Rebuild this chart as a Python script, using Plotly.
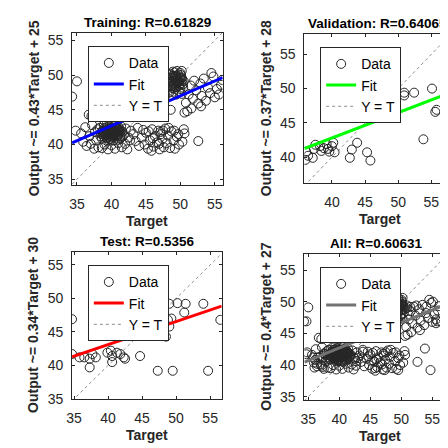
import plotly.graph_objects as go

# ---------------- data ----------------
train_target = [34.3, 35.0, 34.8, 36.7, 37.1, 52.6,
    35.6, 35.9, 36.2, 36.4, 36.8, 37.0, 37.2, 37.5, 37.6, 37.8, 38.0, 38.1,
    38.5, 38.7, 38.9, 39.0, 39.2, 39.3, 39.5, 39.6, 39.7, 39.8, 39.9, 40.0, 40.1, 40.2, 40.3, 40.4,
    40.5, 40.6, 40.7, 40.8, 40.9, 41.0, 41.1, 41.2, 41.3, 41.4, 39.4, 40.0, 40.6, 39.1, 40.2, 41.0,
    38.3, 38.6, 38.9, 39.2, 39.5, 39.8, 40.1, 40.4, 40.7, 41.0, 41.3, 41.6, 38.8, 39.3, 39.9, 40.5,
    41.1, 39.6, 40.3, 40.9,
    38.4, 38.8, 39.1, 39.4, 39.7, 40.0, 40.3, 40.6, 40.9, 41.2, 41.5, 38.6, 39.0, 39.6, 40.2, 40.8,
    41.4, 39.3, 39.9, 40.5, 41.1, 38.9, 39.5, 40.1, 40.7,
    38.6, 39.0, 39.5, 40.0, 40.5, 41.0, 41.5, 42.0, 42.3, 42.7,
    41.8, 42.1, 42.5, 42.8, 43.2, 43.5, 43.8, 44.0,
    44.4, 44.8, 45.0, 45.3, 45.6, 45.9, 46.1, 46.3, 46.6, 46.8, 47.0, 47.2, 47.4, 47.6, 47.8, 48.0,
    48.2, 48.5, 48.7, 49.0, 49.2, 49.5, 49.8, 50.5, 50.6, 50.3,
    44.6, 45.4, 46.0, 46.9, 47.5, 48.3, 49.1, 49.7, 45.8, 47.1,
    45.7, 46.7, 48.6, 51.0, 47.5, 46.2, 45.2,
    48.3, 48.5, 48.6, 48.8, 48.9, 49.0, 49.1, 49.2, 49.3, 49.4, 49.5, 49.6, 49.7, 49.8, 49.9, 50.0,
    50.1, 50.2, 50.4, 50.5, 48.4, 48.7, 49.0, 49.4, 49.8, 50.2,
    48.2, 48.6, 48.9, 49.2, 49.5, 49.8, 50.1, 50.4, 48.5, 49.0, 49.6, 50.2, 48.8, 49.4, 50.0,
    48.4, 48.7, 49.1, 49.3, 49.7, 50.0, 50.3, 48.9, 49.5, 50.1, 48.6, 49.2, 49.9,
    46.5, 47.0, 47.3, 47.8, 50.8, 51.2, 51.5, 51.8, 52.0, 52.3, 52.6, 52.9, 53.1, 53.4, 53.7, 54.0,
    54.3, 54.5, 54.8, 55.0, 55.3, 55.6, 55.9, 56.1, 53.0, 51.6, 50.6]
train_output = [46.9, 49.1, 42.0, 44.3, 44.1, 40.5,
    41.6, 40.4, 42.5, 39.8, 41.2, 40.1, 42.8, 39.4, 41.8, 40.6, 42.2, 39.6,
    41.5, 42.0, 41.1, 42.4, 41.7, 40.9, 42.1, 41.4, 42.7, 40.8, 41.9, 41.2, 42.3, 41.6, 40.6, 42.0,
    41.3, 42.5, 41.8, 41.0, 42.2, 41.5, 40.7, 42.0, 41.2, 42.6, 41.3, 41.9, 41.6, 42.0, 42.1, 41.9,
    42.4, 40.9, 42.8, 41.3, 40.6, 42.5, 41.0, 41.7, 42.9, 42.6, 40.9, 41.8, 41.6, 42.9, 40.7, 42.8,
    42.3, 41.1, 41.4, 41.2,
    41.2, 41.9, 42.2, 41.0, 41.6, 42.4, 41.3, 42.0, 41.5, 41.7, 41.1, 41.8, 41.4, 42.3, 41.8, 41.3,
    42.0, 42.5, 41.5, 41.9, 42.1, 41.6, 41.9, 41.4, 42.2,
    39.5, 40.0, 39.3, 39.9, 39.4, 40.2, 39.6, 40.1, 39.3, 40.6,
    41.4, 42.3, 41.0, 42.0, 41.5, 40.5, 42.4, 39.8,
    41.0, 40.0, 41.7, 39.4, 40.6, 42.2, 39.7, 41.2, 40.3, 42.0, 39.3, 41.5, 40.8, 39.6, 42.3, 40.2,
    41.3, 39.5, 41.9, 40.6, 39.4, 41.1, 40.0, 42.2, 41.6, 40.4,
    42.1, 41.9, 40.9, 40.1, 42.0, 42.4, 42.0, 41.5, 39.1, 41.8,
    45.0, 45.0, 45.0, 44.8, 45.9, 46.2, 46.8,
    49.4, 48.4, 50.2, 49.0, 48.1, 49.8, 48.7, 50.4, 49.2, 48.3, 49.7, 48.9, 50.1, 48.5, 49.4, 50.3,
    48.8, 49.6, 48.2, 49.1, 47.5, 47.1, 47.6, 47.2, 47.7, 47.3,
    48.9, 49.6, 50.5, 48.0, 50.6, 49.1, 50.0, 48.7, 50.0, 48.5, 49.3, 50.6, 48.4, 49.9, 48.0,
    49.2, 48.6, 49.5, 48.8, 49.0, 49.7, 49.3, 49.9, 48.9, 49.5, 49.0, 49.8, 48.7,
    47.5, 48.3, 46.5, 47.0, 46.0, 47.2, 48.5, 46.6, 49.2, 47.8, 45.9, 48.8, 47.0, 49.5, 46.3, 48.2,
    47.4, 50.3, 49.8, 46.8, 48.0, 47.2, 48.6, 49.3, 45.5, 45.2, 44.6]

val_target = [36.0, 36.1, 36.4, 37.1, 37.5, 37.3, 38.2, 38.4, 38.8, 39.2, 39.4, 39.6, 40.2, 40.4, 40.0,
    42.7, 43.0, 43.8, 45.3, 45.8, 41.2, 43.2, 43.9, 44.3, 44.7, 45.2, 45.6, 46.9, 47.9, 48.4,
    48.9, 49.6, 50.9, 50.9, 52.4, 55.1, 53.8, 57.1, 55.6, 55.8, 58.4]
val_output = [39.6, 40.8, 40.2, 39.9, 41.8, 41.2, 41.6, 40.9, 41.3, 41.9, 41.2, 40.8, 42.1, 40.7, 41.6,
    39.9, 41.1, 42.1, 40.7, 39.5, 46.6, 46.8, 46.4, 46.2, 46.6, 46.8, 46.3, 46.8, 46.1, 46.3,
    46.4, 46.8, 49.0, 49.4, 49.4, 50.0, 42.6, 42.0, 46.6, 46.9, 46.9]

test_target = [34.7, 34.7, 35.8, 36.5, 37.3, 37.7, 38.2, 37.3, 39.9, 40.4, 40.6, 40.6, 41.3, 41.8,
    42.3, 42.5, 44.7, 43.2, 46.4, 47.3, 49.5, 48.5, 49.0, 48.8, 49.3, 49.0, 50.2, 51.2, 51.4,
    54.0, 54.7, 56.5]
test_output = [46.9, 41.7, 41.2, 41.2, 41.0, 41.7, 41.2, 39.7, 41.9, 42.2, 41.4, 40.5, 41.9, 41.7,
    41.2, 41.0, 41.4, 45.6, 44.5, 39.2, 39.2, 44.3, 45.8, 46.8, 47.0, 49.2, 49.3, 47.9, 49.2,
    49.2, 39.2, 46.8]

all_target = train_target + val_target + test_target
all_output = train_output + val_output + test_output

titles = ["Training: R=0.61829", "Validation: R=0.64065", "Test: R=0.5356", "All: R=0.60631"]
ylabels = ["Output ~= 0.43*Target + 25", "Output ~= 0.37*Target + 28",
           "Output ~= 0.34*Target + 30", "Output ~= 0.4*Target + 27"]
fit_slope = [0.43, 0.37, 0.345, 0.40]
fit_intercept = [25.5, 28.0, 29.3, 26.7]
tick_values = [35, 40, 45, 50, 55]
legend_labels = ["Data", "Fit", "Y = T"]

# ---------------- layout / style ----------------
W = H = 448
FONT = "Liberation Sans, Arial, Helvetica, sans-serif"
AX = "#262626"
fit_colors = ["#0000FF", "#00FF00", "#FF0000", "#737373"]

# plot boxes in pixels: left, right, top, bottom
boxes = [(59, 212, 25, 180), (295, 448, 26, 178), (59, 211, 248, 398), (295, 448, 250, 399)]
title_cx = [135.5, 369.5, 135.5, 368.0]
xranges = [[34.29, 56.14], [35.84, 58.57], [34.71, 56.7], [34.37, 58.65]]
yranges = [[34.2, 56.13], [36.25, 58.03], [35.0, 57.0], [34.5, 57.6]]
datasets = [(train_target, train_output), (val_target, val_output),
            (test_target, test_output), (all_target, all_output)]

fig = go.Figure()
annotations = []
layout = dict(width=W, height=H, margin=dict(l=0, r=0, t=0, b=0),
              paper_bgcolor="white", plot_bgcolor="white", showlegend=True,
              font=dict(family=FONT, size=14, color=AX))

for i in range(4):
    n = "" if i == 0 else str(i + 1)
    xa, ya = "x" + n, "y" + n
    leg = "legend" + n
    l, r, t, b = boxes[i]
    xr, yr = xranges[i], yranges[i]
    tx, ty = datasets[i]

    fig.add_trace(go.Scatter(x=xr, y=xr, mode="lines", xaxis=xa, yaxis=ya, name=legend_labels[2],
                             legend=leg, legendrank=3,
                             line=dict(color="#8c8c8c", width=1, dash="dot"), hoverinfo="skip"))
    fig.add_trace(go.Scatter(x=tx, y=ty, mode="markers", xaxis=xa, yaxis=ya, name=legend_labels[0],
                             legend=leg, legendrank=1,
                             marker=dict(symbol="circle-open", size=9, color="#262626",
                                         line=dict(width=1, color="#262626"))))
    fy = [fit_slope[i] * v + fit_intercept[i] for v in xr]
    fig.add_trace(go.Scatter(x=xr, y=fy, mode="lines", xaxis=xa, yaxis=ya, name=legend_labels[1],
                             legend=leg, legendrank=2,
                             line=dict(color=fit_colors[i], width=3)))

    axcommon = dict(showline=True, linecolor=AX, linewidth=1, mirror="ticks", ticks="inside",
                    ticklen=3, tickcolor=AX, showgrid=False, zeroline=False,
                    tickvals=tick_values, tickfont=dict(size=14, color=AX, family=FONT))
    layout["xaxis" + n] = dict(axcommon, domain=[l / W, r / W], range=xr, anchor=ya,
                               ticklabelstandoff=6)
    layout["yaxis" + n] = dict(axcommon, domain=[1 - b / H, 1 - t / H], range=yr, anchor=xa,
                               ticklabelstandoff=5)
    layout[leg] = dict(x=(l + 16) / W, y=1 - (t + 14) / H, xanchor="left", yanchor="top",
                       bgcolor="white", bordercolor=AX, borderwidth=1, tracegroupgap=0,
                       font=dict(size=14, color="black", family=FONT), itemwidth=30)

    cx = (l + r) / 2 / W
    annotations.append(dict(text="<b>%s</b>" % titles[i], x=title_cx[i] / W, y=1 - (t - 10) / H,
                            xref="paper", yref="paper", showarrow=False, xanchor="center",
                            yanchor="middle", font=dict(size=13.5, color="black", family=FONT)))
    annotations.append(dict(text="<b>Target</b>", x=cx, y=1 - (b + 37) / H, xref="paper",
                            yref="paper", showarrow=False, xanchor="center", yanchor="middle",
                            font=dict(size=14, color=AX, family=FONT)))
    annotations.append(dict(text="<b>%s</b>" % ylabels[i], x=(l - 39) / W, y=1 - (t + b) / 2 / H,
                            xref="paper", yref="paper", showarrow=False, textangle=-90,
                            xanchor="center", yanchor="middle",
                            font=dict(size=14, color=AX, family=FONT)))

layout["annotations"] = annotations
fig.update_layout(**layout)
fig.write_html("out.html")
